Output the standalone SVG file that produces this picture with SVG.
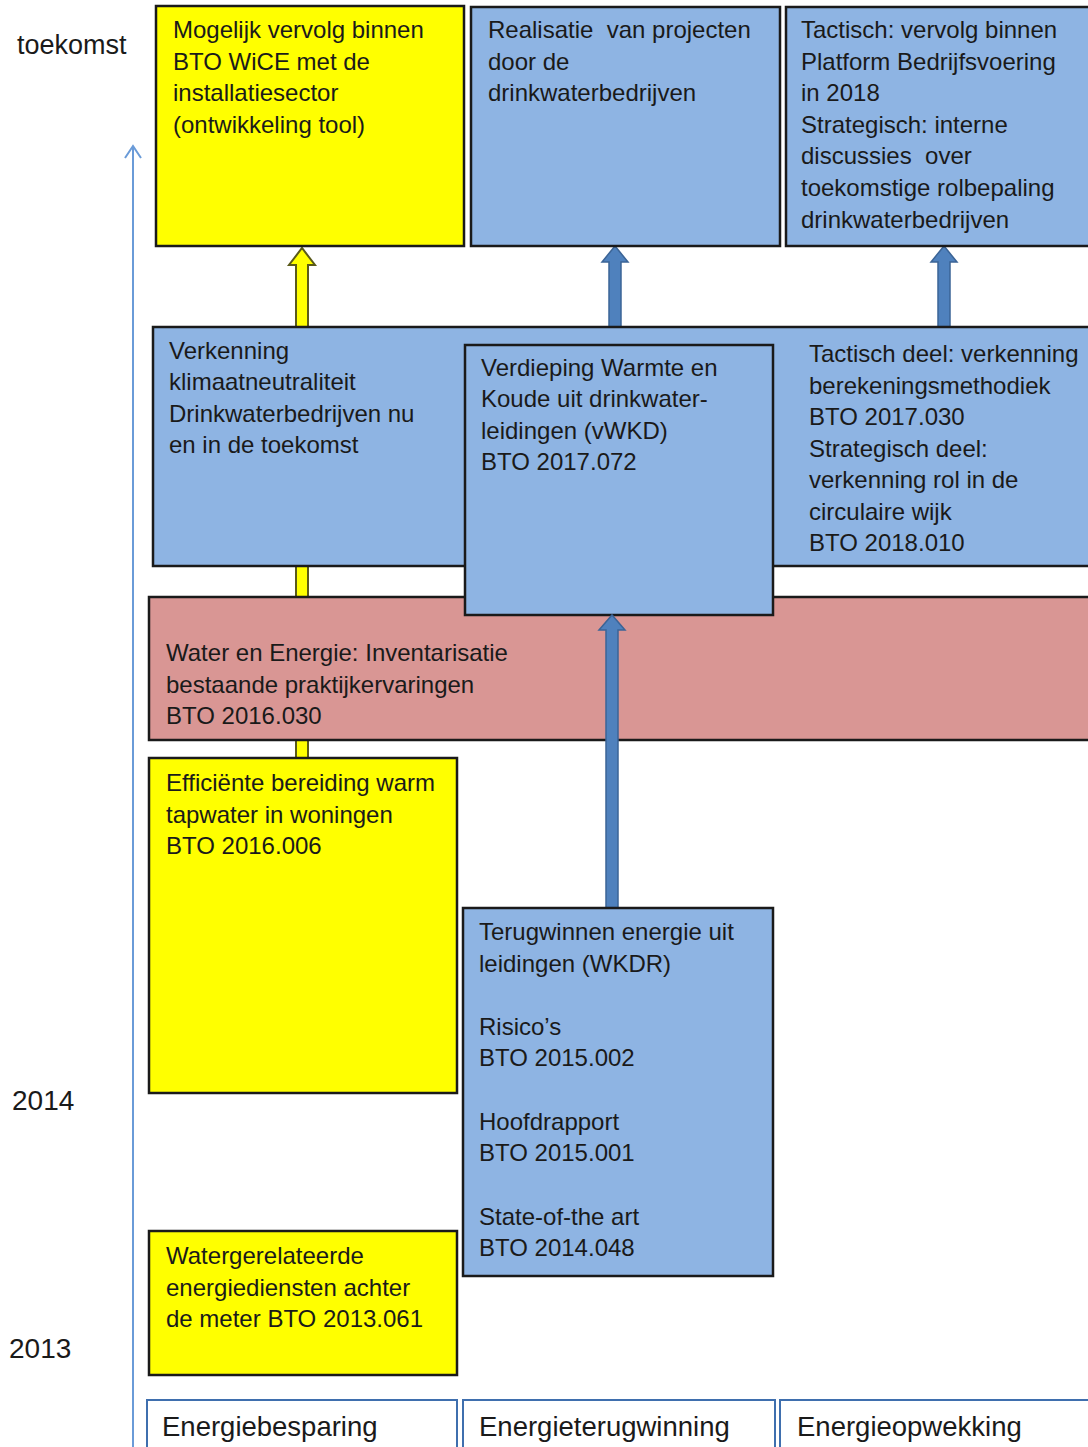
<svg xmlns="http://www.w3.org/2000/svg" width="1088" height="1447" viewBox="0 0 1088 1447">
<defs>
<style>
text{font-family:"Liberation Sans",Arial,sans-serif;font-size:24px;fill:#1a1a1a}
.box{stroke:#1a1a1a;stroke-width:2.5}
.y{fill:#ffff00}
.b{fill:#8eb4e3}
.p{fill:#d99694}
.lab{fill:#fff;stroke:#3f6fae;stroke-width:2}
.big{font-size:27px}
.yr{font-size:28px}
.ax{font-size:27.5px}
.ya{fill:#ffff00;stroke:#5a5a1a;stroke-width:2}
.ba{fill:#4f81bd;stroke:#3b6496;stroke-width:1.5}
</style>
</defs>
<rect width="1088" height="1447" fill="#fff"/>
<g id="axis">
<line x1="133" y1="1447" x2="133" y2="146" stroke="#6a9bd8" stroke-width="2"/>
<path d="M125,158 L133,146 L141,158" fill="none" stroke="#6a9bd8" stroke-width="2"/>
<text x="17" y="54" class="big">toekomst</text>
<text x="12" y="1110" class="yr">2014</text>
<text x="9" y="1358" class="yr">2013</text>
</g>
<g id="connectors">
<path class="ya" d="M296,758 L296,265 L289,265 L302,248 L315,265 L308,265 L308,758 Z"/>
<path class="ba" d="M609,330 L609,262 L602,262 L615,246 L628,262 L621,262 L621,330 Z"/>
<path class="ba" d="M938,330 L938,262 L931,262 L944,246 L957,262 L950,262 L950,330 Z"/>
</g>
<g id="n-mogelijk">
<rect class="box y" x="156" y="6" width="308" height="240"/>
<text x="173" y="38">Mogelijk vervolg binnen</text>
<text x="173" y="70">BTO WiCE met de</text>
<text x="173" y="101">installatiesector</text>
<text x="173" y="133">(ontwikkeling tool)</text>
</g>
<g id="n-realisatie">
<rect class="box b" x="471" y="7" width="309" height="239"/>
<text x="488" y="38" xml:space="preserve">Realisatie  van projecten</text>
<text x="488" y="70">door de</text>
<text x="488" y="101">drinkwaterbedrijven</text>
</g>
<g id="n-tactisch-top">
<rect class="box b" x="786" y="7" width="305" height="239"/>
<text x="801" y="38">Tactisch: vervolg binnen</text>
<text x="801" y="70">Platform Bedrijfsvoering</text>
<text x="801" y="101">in 2018</text>
<text x="801" y="133">Strategisch: interne</text>
<text x="801" y="164" xml:space="preserve">discussies  over</text>
<text x="801" y="196">toekomstige rolbepaling</text>
<text x="801" y="228">drinkwaterbedrijven</text>
</g>
<g id="n-verkenning">
<rect class="box b" x="153" y="327" width="938" height="239"/>
<text x="169" y="359">Verkenning</text>
<text x="169" y="390">klimaatneutraliteit</text>
<text x="169" y="422">Drinkwaterbedrijven nu</text>
<text x="169" y="453">en in de toekomst</text>
<text x="809" y="362">Tactisch deel: verkenning</text>
<text x="809" y="394">berekeningsmethodiek</text>
<text x="809" y="425">BTO 2017.030</text>
<text x="809" y="457">Strategisch deel:</text>
<text x="809" y="488">verkenning rol in de</text>
<text x="809" y="520">circulaire wijk</text>
<text x="809" y="551">BTO 2018.010</text>
</g>
<g id="n-water-energie">
<rect class="box p" x="149" y="597" width="942" height="143"/>
<text x="166" y="661">Water en Energie: Inventarisatie</text>
<text x="166" y="693">bestaande praktijkervaringen</text>
<text x="166" y="724">BTO 2016.030</text>
</g>
<g id="n-verdieping">
<rect class="box b" x="465" y="345" width="308" height="270"/>
<text x="481" y="376">Verdieping Warmte en</text>
<text x="481" y="407">Koude uit drinkwater-</text>
<text x="481" y="439">leidingen (vWKD)</text>
<text x="481" y="470">BTO 2017.072</text>
</g>
<g id="connectors2">
<path class="ba" d="M606,908 L606,630 L599,630 L612,615 L625,630 L618,630 L618,908 Z"/>
</g>
<g id="n-efficiente">
<rect class="box y" x="149" y="758" width="308" height="335"/>
<text x="166" y="791">Efficiënte bereiding warm</text>
<text x="166" y="823">tapwater in woningen</text>
<text x="166" y="854">BTO 2016.006</text>
</g>
<g id="n-terugwinnen">
<rect class="box b" x="463" y="908" width="310" height="368"/>
<text x="479" y="940">Terugwinnen energie uit</text>
<text x="479" y="972">leidingen (WKDR)</text>
<text x="479" y="1035">Risico’s</text>
<text x="479" y="1066">BTO 2015.002</text>
<text x="479" y="1130">Hoofdrapport</text>
<text x="479" y="1161">BTO 2015.001</text>
<text x="479" y="1225">State-of-the art</text>
<text x="479" y="1256">BTO 2014.048</text>
</g>
<g id="n-watergerelateerde">
<rect class="box y" x="149" y="1231" width="308" height="144"/>
<text x="166" y="1264">Watergerelateerde</text>
<text x="166" y="1296">energiediensten achter</text>
<text x="166" y="1327">de meter BTO 2013.061</text>
</g>
<g id="n-besparing">
<rect class="lab" x="147" y="1400" width="310" height="60"/>
<text x="162" y="1436" class="ax">Energiebesparing</text>
</g>
<g id="n-terugwinning">
<rect class="lab" x="463" y="1400" width="312" height="60"/>
<text x="479" y="1436" class="ax">Energieterugwinning</text>
</g>
<g id="n-opwekking">
<rect class="lab" x="780" y="1400" width="320" height="60"/>
<text x="797" y="1436" class="ax">Energieopwekking</text>
</g>
</svg>
